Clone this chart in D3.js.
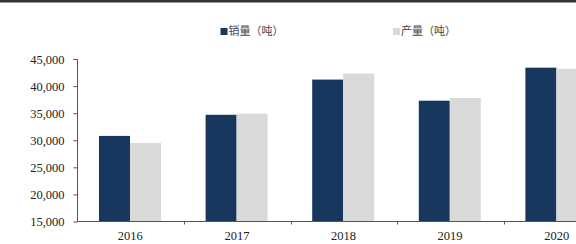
<!DOCTYPE html>
<html>
<head>
<meta charset="utf-8">
<script src="https://cdn.jsdelivr.net/npm/d3@7"></script>
<style>
  body { margin: 0; background: #fff; }
  svg { display: block; }
</style>
</head>
<body>
<div id="chart"></div>
<script>
// data
const years = ['2016', '2017', '2018', '2019', '2020'];
const seriesNames = ['销量（吨）', '产量（吨）'];
const sales = [30800, 34700, 41200, 37300, 43400];
const output = [29500, 34900, 42300, 37800, 43200];
const yTicks = [15000, 20000, 25000, 30000, 35000, 40000, 45000];
const colors = ['#17375e', '#d9d9d9'];

const svgWidth = 576, svgHeight = 244;

const svg = d3.select('#chart').append('svg')
  .attr('width', svgWidth)
  .attr('height', svgHeight);

// thick rule at the very top
svg.append('rect')
  .attr('x', 0).attr('y', 0)
  .attr('width', svgWidth).attr('height', 2.5)
  .attr('fill', '#333');

// scales
const step = 106.6;
const x0 = d3.scaleBand()
  .domain(years)
  .range([77.5, 77.5 + step * years.length])
  .padding(0);

const x1 = d3.scaleBand()
  .domain(seriesNames)
  .range([21.5, 21.5 + 62]);

const y = d3.scaleLinear()
  .domain([15000, 45000])
  .range([221.5, 59]);

const table = years.map((yr, i) => ({year: yr, values: [sales[i], output[i]]}));

// bars
const group = svg.selectAll('.year')
  .data(table)
  .enter().append('g')
    .attr('class', 'year')
    .attr('transform', d => 'translate(' + x0(d.year) + ',0)');

group.selectAll('rect')
  .data(d => d.values.map((v, k) => ({name: seriesNames[k], value: v, k: k})))
  .enter().append('rect')
    .attr('x', d => x1(d.name))
    .attr('width', x1.bandwidth())
    .attr('y', d => y(d.value))
    .attr('height', d => y(15000) - y(d.value))
    .attr('fill', d => colors[d.k]);

// y axis
const yAxis = d3.axisLeft(y)
  .tickValues(yTicks)
  .tickSize(4)
  .tickPadding(9)
  .tickFormat(d3.format(','));

const gy = svg.append('g')
  .attr('transform', 'translate(77.5,0)')
  .call(yAxis);
gy.select('.domain').attr('stroke', '#555').attr('d', 'M-4,59.5H0V221.5');
gy.selectAll('.tick line').attr('stroke', '#555');
gy.selectAll('.tick text')
  .style('font-family', '"Liberation Serif", "Times New Roman", serif')
  .style('font-size', '12.5px')
  .attr('fill', '#222');

// x axis
const gx = svg.append('g')
  .attr('transform', 'translate(0,221.5)');
gx.append('line')
  .attr('x1', 77.5).attr('x2', svgWidth)
  .attr('stroke', '#555');
gx.selectAll('.xtick')
  .data(years.slice(1))
  .enter().append('line')
    .attr('x1', d => Math.round(x0(d)) + 0.5)
    .attr('x2', d => Math.round(x0(d)) + 0.5)
    .attr('y1', 0).attr('y2', 3)
    .attr('stroke', '#555');
gx.selectAll('.xlabel')
  .data(years)
  .enter().append('text')
    .attr('x', d => x0(d) + x0.bandwidth() / 2 - 0.5)
    .attr('y', 18.5)
    .attr('text-anchor', 'middle')
    .style('font-family', '"Liberation Serif", "Times New Roman", serif')
    .style('font-size', '12.5px')
    .attr('fill', '#222')
    .text(d => d);

// legend
const legendX = [220.5, 393];
const legend = svg.selectAll('.legend')
  .data(seriesNames)
  .enter().append('g')
    .attr('class', 'legend')
    .attr('transform', (d, i) => 'translate(' + legendX[i] + ',28)');
legend.append('rect')
  .attr('width', 7).attr('height', 7)
  .attr('fill', (d, i) => colors[i]);
legend.append('text')
  .attr('x', 8)
  .attr('y', 7)
  .style('font-family', '"Noto Sans CJK SC", sans-serif')
  .style('font-size', '11px')
  .attr('fill', '#444')
  .text(d => d);
</script>
</body>
</html>
